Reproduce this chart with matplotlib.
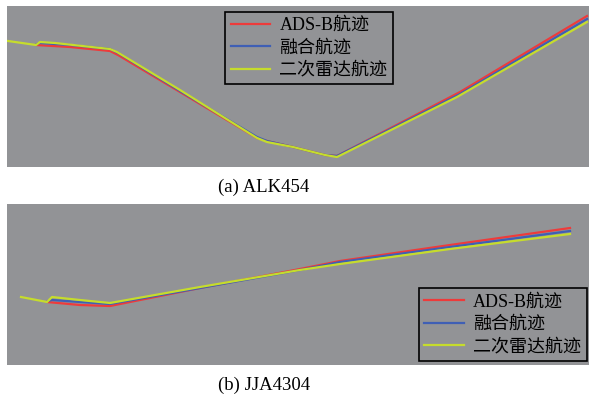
import matplotlib.pyplot as plt
import numpy as np

plt.rcParams['font.family'] = ['Liberation Serif', 'Noto Sans CJK SC']

labels = ['ADS-B航迹', '融合航迹', '二次雷达航迹']
colors = ['#ee3b3b', '#3f5fb5', '#c6dc2c']
captions = ['(a) ALK454', '(b) JJA4304']

# (a) ALK454 track positions (picture units)
a_ads_x = [36, 70, 110, 118, 180, 257, 267, 293, 325, 337, 460, 587]
a_ads_y = [45, 47, 51, 55, 92, 138, 141, 147, 155, 156, 92, 16]
a_fus_x = [37, 40, 70, 110, 118, 180, 257, 267, 293, 325, 337, 460, 587]
a_fus_y = [44, 43, 45, 49, 53, 91, 137, 141, 147, 155, 156, 94, 19]
a_ssr_x = [8, 36, 40, 55, 110, 117, 180, 257, 267, 293, 325, 337, 457, 587]
a_ssr_y = [41, 45, 42, 43, 49, 52, 90, 138, 142, 147, 155, 157, 97, 22]

# (b) JJA4304 track positions (picture units)
b_ads_x = [47, 80, 110, 200, 300, 340, 450, 570]
b_ads_y = [302, 305, 306, 288, 269, 261, 245, 228]
b_fus_x = [48, 52, 80, 110, 200, 300, 340, 450, 570]
b_fus_y = [301, 300, 302, 304, 288, 270, 262, 247, 231]
b_ssr_x = [21, 47, 52, 80, 110, 200, 300, 340, 450, 570]
b_ssr_y = [297, 302, 297, 300, 303, 287, 270, 264, 249, 234]

fig = plt.figure(figsize=(5.89, 4.0), dpi=100)
W, H = 589, 400
panels = [
    (6, 167, [(a_ads_x, a_ads_y), (a_fus_x, a_fus_y), (a_ssr_x, a_ssr_y)],
     'upper left', (0.375, 0.965), 187),
    (204, 365, [(b_ads_x, b_ads_y), (b_fus_x, b_fus_y), (b_ssr_x, b_ssr_y)],
     'lower left', (0.708, 0.025), 385),
]

for top, bottom, series, loc, leg_pos, cap_y in panels:
    ax = fig.add_axes([7 / W, 1 - bottom / H, (589 - 7) / W, (bottom - top) / H])
    ax.set_facecolor('#929396')
    for (x, y), c, lab in zip(series, colors, labels):
        ax.plot(x, y, color=c, lw=1.6, label=lab, solid_joinstyle='round')
    ax.set_xlim(7, 589)
    ax.set_ylim(bottom, top)
    ax.set_xticks([])
    ax.set_yticks([])
    for s in ax.spines.values():
        s.set_visible(False)
    leg = ax.legend(loc=loc, bbox_to_anchor=leg_pos, fontsize=13,
                    frameon=True, fancybox=False, handlelength=2.2,
                    handletextpad=0.5, labelspacing=0.3, borderpad=0.3,
                    borderaxespad=0)
    leg.get_frame().set_facecolor('#929396')
    leg.get_frame().set_edgecolor('black')
    leg.get_frame().set_linewidth(1.2)
    leg.get_frame().set_alpha(1)

for p, cap in zip(panels, captions):
    fig.text(264 / W, 1 - p[-1] / H, cap, ha='center', va='center', fontsize=13.5)

plt.savefig('out.png', dpi=100)
